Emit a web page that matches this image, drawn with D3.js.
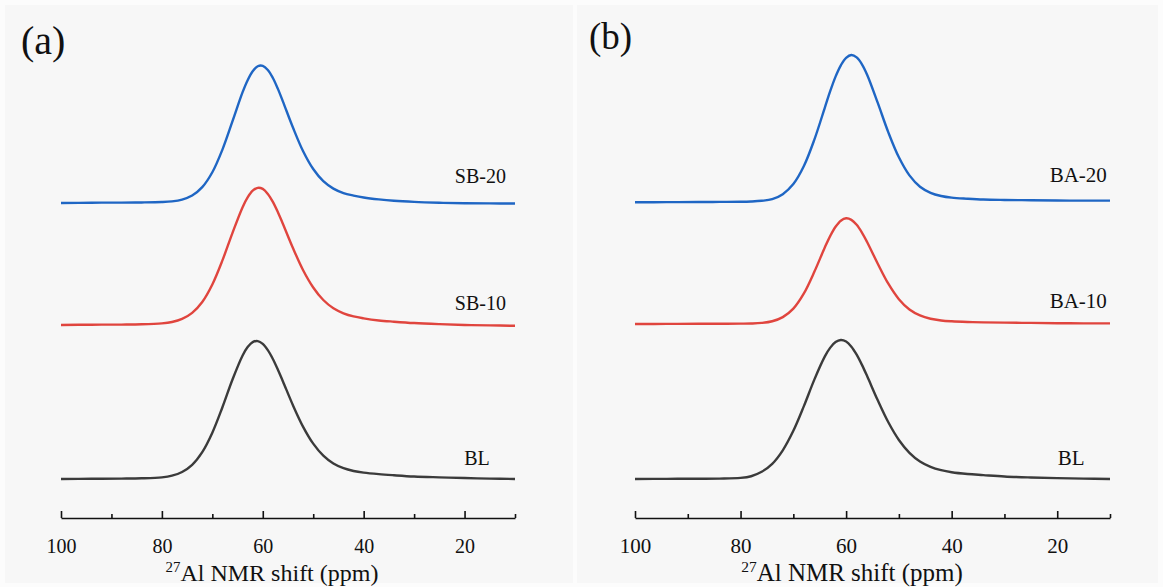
<!DOCTYPE html>
<html>
<head>
<meta charset="utf-8">
<script src="https://cdn.jsdelivr.net/npm/d3@7"></script>
<style>
  html, body { margin: 0; padding: 0; background: #fcfcfc; }
  svg { display: block; font-family: "Liberation Serif", "Times New Roman", serif; }
</style>
</head>
<body>
<svg id="chart" width="1163" height="587"></svg>
<script>
// Chemical shift grid (ppm) shared by every spectrum
const ppm = [100, 94, 88, 84, 80, 78, 76, 74, 72, 70, 68, 66, 64, 63, 62, 61, 60, 59,
             58, 57, 56, 54, 52, 50, 48, 46, 44, 42, 40, 37, 34, 30, 25, 20, 15, 10];

// Panel (a) intensities (a.u.)
const blA  = [0.000, 0.002, 0.003, 0.005, 0.012, 0.024, 0.051, 0.103, 0.195, 0.336, 0.520, 0.721,
              0.895, 0.956, 0.992, 0.999, 0.979, 0.934, 0.870, 0.792, 0.707, 0.533, 0.378, 0.256,
              0.169, 0.112, 0.078, 0.058, 0.046, 0.035, 0.027, 0.018, 0.012, 0.007, 0.003, 0.000];
const sb10 = [0.000, 0.002, 0.003, 0.005, 0.012, 0.022, 0.044, 0.088, 0.167, 0.294, 0.468, 0.668,
              0.854, 0.925, 0.973, 0.994, 0.986, 0.950, 0.892, 0.817, 0.732, 0.556, 0.397, 0.272,
              0.181, 0.121, 0.085, 0.062, 0.048, 0.033, 0.024, 0.014, 0.006, 0.000, -0.003, -0.006];
const sb20 = [0.000, 0.002, 0.003, 0.004, 0.007, 0.012, 0.025, 0.054, 0.115, 0.223, 0.387, 0.593,
              0.803, 0.890, 0.955, 0.991, 0.994, 0.964, 0.906, 0.827, 0.735, 0.545, 0.375, 0.246,
              0.158, 0.104, 0.072, 0.054, 0.040, 0.026, 0.016, 0.008, 0.002, -0.002, -0.003, -0.004];

// Panel (b) intensities (a.u.)
const blB  = [0.000, 0.001, 0.002, 0.003, 0.008, 0.020, 0.052, 0.110, 0.208, 0.349, 0.528, 0.722,
              0.890, 0.952, 0.992, 1.007, 0.996, 0.959, 0.901, 0.827, 0.744, 0.570, 0.411, 0.283,
              0.190, 0.127, 0.088, 0.064, 0.049, 0.036, 0.028, 0.018, 0.011, 0.006, 0.003, 0.000];
const ba10 = [0.000, 0.001, 0.002, 0.002, 0.003, 0.004, 0.008, 0.020, 0.050, 0.112, 0.222, 0.380,
              0.558, 0.639, 0.705, 0.749, 0.766, 0.755, 0.719, 0.663, 0.593, 0.437, 0.292, 0.180,
              0.105, 0.062, 0.038, 0.026, 0.020, 0.015, 0.012, 0.010, 0.008, 0.006, 0.005, 0.005];
const ba20 = [0.000, 0.001, 0.002, 0.003, 0.004, 0.006, 0.011, 0.023, 0.059, 0.132, 0.263, 0.456,
              0.690, 0.807, 0.911, 0.993, 1.047, 1.067, 1.050, 1.000, 0.923, 0.720, 0.507, 0.326,
              0.195, 0.113, 0.069, 0.046, 0.034, 0.026, 0.020, 0.017, 0.015, 0.013, 0.012, 0.012];

// Stacking: sample names and vertical offsets (bottom to top)
const namesA = ["BL", "SB-10", "SB-20"];
const namesB = ["BL", "BA-10", "BA-20"];
const offsetsA = [0, 1.116, 2.0];
const offsetsB = [0, 1.123, 2.005];

// Axis ticks
const majorTicks = [100, 80, 60, 40, 20];
const minorTicks = [90, 70, 50, 30, 10];
const panelTags = ["(a)", "(b)"];

const lineColors = ["#3b3b3b", "#e0453e", "#1f66c4"];

const svg = d3.select("#chart");

// Faint panel backdrops
svg.append("rect").attr("x", 5).attr("y", 5).attr("width", 568).attr("height", 578).attr("fill", "#f7f7f7");
svg.append("rect").attr("x", 577).attr("y", 5).attr("width", 581).attr("height", 578).attr("fill", "#f7f7f7");

function drawPanel(cfg) {
  const g = svg.append("g");
  const x = d3.scaleLinear().domain([100, 10]).range(cfg.xRange);
  const y = d3.scaleLinear().domain([0, 3]).range([479, 65]);

  const line = d3.line().curve(d3.curveCatmullRom.alpha(0.5));

  cfg.series.forEach((vals, i) => {
    const pts = ppm.map((p, k) => [x(p), y(vals[k] + cfg.offsets[i])]);
    g.append("path")
      .attr("d", line(pts))
      .attr("fill", "none")
      .attr("stroke", lineColors[i])
      .attr("stroke-width", 2.4)
      .attr("stroke-linejoin", "round");
  });

  // Sample labels at the right end of each trace
  cfg.names.forEach((name, i) => {
    g.append("text")
      .attr("x", x(cfg.labelPpm[i]))
      .attr("y", y(cfg.offsets[i] + cfg.labelLift[i]))
      .attr("text-anchor", "end")
      .attr("font-size", cfg.labelSize)
      .attr("fill", "#111")
      .text(name);
  });

  // Bottom axis: major ticks with labels, minor ticks without
  const axisY = 518;
  const major = g.append("g").attr("transform", `translate(0,${axisY})`)
    .call(d3.axisBottom(x).tickValues(majorTicks).tickSizeInner(-7).tickSizeOuter(0).tickFormat(d3.format("d")));
  major.select(".domain").attr("stroke", "#111").attr("stroke-width", 1.6);
  major.selectAll(".tick line").attr("stroke", "#111").attr("stroke-width", 1.6);
  major.selectAll(".tick text")
    .attr("y", 35).attr("dy", 0)
    .attr("font-family", "Liberation Serif, Times New Roman, serif")
    .attr("font-size", cfg.tickSize).attr("fill", "#111");

  const minor = g.append("g").attr("transform", `translate(0,${axisY})`)
    .call(d3.axisBottom(x).tickValues(minorTicks).tickSizeInner(-4).tickSizeOuter(0).tickFormat(""));
  minor.select(".domain").remove();
  minor.selectAll(".tick line").attr("stroke", "#111").attr("stroke-width", 1.6);

  // Axis title with superscript isotope number
  const title = g.append("text")
    .attr("x", cfg.titleX).attr("y", 581)
    .attr("text-anchor", "middle")
    .attr("fill", "#111")
    .attr("font-size", cfg.titleSize);
  title.append("tspan").attr("font-size", cfg.titleSize * 0.62).attr("dy", -cfg.titleSize * 0.38).text("27");
  title.append("tspan").attr("dy", cfg.titleSize * 0.38).text("Al NMR shift (ppm)");

  // Panel tag
  g.append("text")
    .attr("x", cfg.tagX).attr("y", cfg.tagY)
    .attr("font-size", cfg.tagSize)
    .attr("fill", "#111")
    .text(cfg.tag);
}

drawPanel({
  xRange: [61, 515],
  series: [blA, sb10, sb20],
  offsets: offsetsA,
  names: namesA,
  labelPpm: [15.0, 11.8, 11.8],
  labelLift: [0.10, 0.11, 0.145],
  labelSize: 20,
  tickSize: 20,
  titleX: 272,
  titleSize: 24,
  tag: panelTags[0], tagX: 21, tagY: 54, tagSize: 40
});

drawPanel({
  xRange: [635, 1110],
  series: [blB, ba10, ba20],
  offsets: offsetsB,
  names: namesB,
  labelPpm: [14.8, 10.6, 10.6],
  labelLift: [0.10, 0.115, 0.145],
  labelSize: 21,
  tickSize: 21,
  titleX: 852,
  titleSize: 25,
  tag: panelTags[1], tagX: 589, tagY: 49, tagSize: 37
});
</script>
</body>
</html>
